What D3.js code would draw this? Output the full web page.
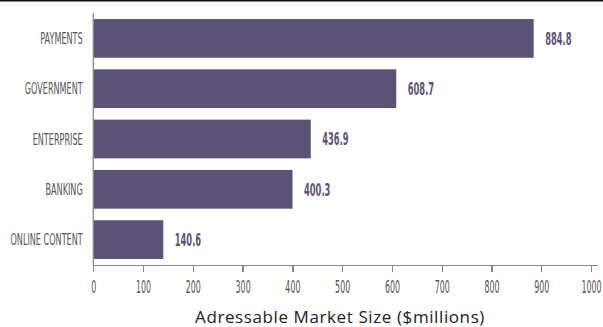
<!DOCTYPE html>
<meta charset="utf-8">
<style>
    body { margin: 0; background: #fff; }
    svg { display: block; }
    .cond { font-family: "DejaVu Sans", sans-serif; font-weight: normal; fill: #555; }
    .axis path, .axis line { fill: none; stroke: #888; stroke-width: 1.3; shape-rendering: crispEdges; }
</style>
<body>
<script src="https://d3js.org/d3.v7.min.js"></script>
<script>
    const categories = ["PAYMENTS", "GOVERNMENT", "ENTERPRISE", "BANKING", "ONLINE CONTENT"];
    const values = [884.8, 608.7, 436.9, 400.3, 140.6];
    const ticks = [0, 100, 200, 300, 400, 500, 600, 700, 800, 900, 1000];

    const width = 603, height = 327;
    const barColor = "#5b5275";

    const svg = d3.select("body").append("svg")
        .attr("width", width)
        .attr("height", height);

    // black rule along the top
    svg.append("rect")
        .attr("x", 0).attr("y", 0)
        .attr("width", width).attr("height", 1.5)
        .attr("fill", "#111");

    const x = d3.scaleLinear().domain([0, 1012]).range([93.3, 597]);
    const y = d3.scaleBand().domain(categories).range([13, 265])
        .paddingInner(0.23).paddingOuter(0.12);

    // bars
    svg.selectAll(".bar")
        .data(categories)
        .enter().append("rect")
        .attr("class", "bar")
        .attr("x", x(0))
        .attr("y", d => y(d))
        .attr("width", (d, i) => x(values[i]) - x(0))
        .attr("height", y.bandwidth())
        .attr("fill", barColor);

    // value labels (squeezed to look condensed)
    svg.selectAll(".val")
        .data(categories)
        .enter().append("text")
        .attr("class", "val")
        .attr("transform", (d, i) => "translate(" + (x(values[i]) + 11.5) + "," + (y(d) + y.bandwidth() / 2) + ") scale(0.49,1)")
        .attr("dy", "0.37em")
        .style("font-family", "'DejaVu Sans', sans-serif")
        .style("font-weight", "bold")
        .style("font-size", "17px")
        .style("fill", barColor)
        .text((d, i) => values[i].toFixed(1));

    // y axis line
    svg.append("line")
        .attr("x1", x(0)).attr("x2", x(0))
        .attr("y1", 13).attr("y2", 265)
        .attr("stroke", "#888").attr("stroke-width", 1.3);

    // category labels
    svg.selectAll(".cat")
        .data(categories)
        .enter().append("text")
        .attr("class", "cond")
        .attr("transform", d => "translate(82.7," + (y(d) + y.bandwidth() / 2) + ") scale(0.54,1)")
        .attr("dy", "0.37em")
        .attr("text-anchor", "end")
        .style("font-size", "15px")
        .text(d => d);

    // x axis
    const xAxis = svg.append("g")
        .attr("class", "axis")
        .attr("transform", "translate(0,265.3)")
        .call(d3.axisBottom(x).tickValues(ticks).tickFormat(d3.format("d"))
            .tickSize(7).tickSizeOuter(0).tickPadding(8));

    xAxis.selectAll(".tick text")
        .attr("class", "cond")
        .attr("text-anchor", "middle")
        .style("font-size", "18px")
        .attr("transform", "scale(0.44,1)");

    // axis title
    svg.append("text")
        .attr("x", 340)
        .attr("y", 323.3)
        .attr("text-anchor", "middle")
        .style("font-family", "'Open Sans', sans-serif")
        .style("font-size", "17px")
        .style("letter-spacing", "0.6px")
        .style("fill", "#222")
        .text("Adressable Market Size ($millions)");
</script>
</body>
</html>
